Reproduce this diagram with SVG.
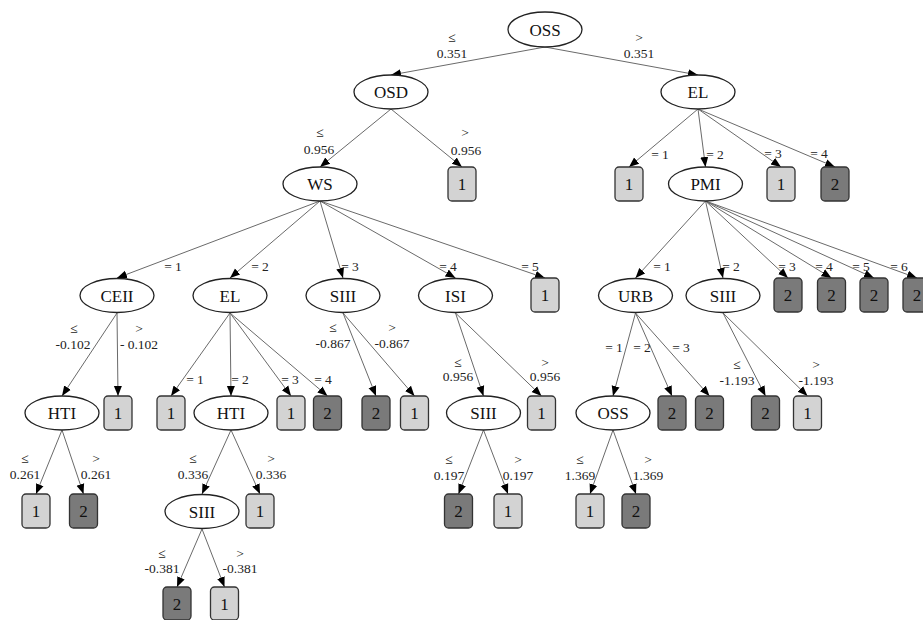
<svg xmlns="http://www.w3.org/2000/svg" width="923" height="620" viewBox="0 0 923 620">
<style>
.bg{fill:#ffffff}
.n ellipse{fill:#ffffff;stroke:#222;stroke-width:1.3}
.a rect{fill:#d3d3d3;stroke:#333;stroke-width:1.3}
.b rect{fill:#7a7a7a;stroke:#333;stroke-width:1.3}
.n text,.a text,.b text{font-family:"Liberation Serif","DejaVu Serif",serif;font-size:17px;fill:#111;text-anchor:middle}
.e line{stroke:#6a6a6a;stroke-width:1;marker-end:url(#ar)}
.lb text{font-family:"Liberation Serif","DejaVu Serif",serif;font-size:13.5px;fill:#222;text-anchor:middle}
</style>
<defs>
<marker id="ar" markerUnits="userSpaceOnUse" markerWidth="10" markerHeight="10" viewBox="0 0 10 10" refX="10" refY="5" orient="auto">
<path d="M0,1 L10,5 L0,9 Z" fill="#000"/>
</marker>
</defs>
<rect class="bg" x="0" y="0" width="923" height="620"/>
<g id="connectors" class="e">
<line x1="545" y1="47" x2="391" y2="75"/>
<line x1="545" y1="47" x2="698" y2="75"/>
<line x1="391" y1="109" x2="320" y2="167"/>
<line x1="391" y1="109" x2="462" y2="167"/>
<line x1="698" y1="109" x2="629" y2="167"/>
<line x1="698" y1="109" x2="705.5" y2="167"/>
<line x1="698" y1="109" x2="781" y2="167"/>
<line x1="698" y1="109" x2="835" y2="167"/>
<line x1="320" y1="201" x2="117" y2="278"/>
<line x1="320" y1="201" x2="230" y2="278"/>
<line x1="320" y1="201" x2="343" y2="278"/>
<line x1="320" y1="201" x2="455.5" y2="278"/>
<line x1="320" y1="201" x2="545" y2="278"/>
<line x1="705.5" y1="201" x2="635.5" y2="278"/>
<line x1="705.5" y1="201" x2="723" y2="278"/>
<line x1="705.5" y1="201" x2="788" y2="278"/>
<line x1="705.5" y1="201" x2="831.5" y2="278"/>
<line x1="705.5" y1="201" x2="874" y2="278"/>
<line x1="705.5" y1="201" x2="917" y2="278"/>
<line x1="117" y1="313" x2="62" y2="396"/>
<line x1="117" y1="313" x2="118" y2="396"/>
<line x1="230" y1="313" x2="171" y2="396"/>
<line x1="230" y1="313" x2="231" y2="396"/>
<line x1="230" y1="313" x2="291" y2="396"/>
<line x1="230" y1="313" x2="327.5" y2="396"/>
<line x1="343" y1="313" x2="376" y2="396"/>
<line x1="343" y1="313" x2="414.5" y2="396"/>
<line x1="455.5" y1="313" x2="483.5" y2="396"/>
<line x1="455.5" y1="313" x2="541.5" y2="396"/>
<line x1="635.5" y1="313" x2="613" y2="396"/>
<line x1="635.5" y1="313" x2="672" y2="396"/>
<line x1="635.5" y1="313" x2="709.5" y2="396"/>
<line x1="723" y1="313" x2="765.5" y2="396"/>
<line x1="723" y1="313" x2="807.5" y2="396"/>
<line x1="62" y1="430" x2="36" y2="494"/>
<line x1="62" y1="430" x2="83.5" y2="494"/>
<line x1="231" y1="430" x2="202" y2="494"/>
<line x1="231" y1="430" x2="260" y2="494"/>
<line x1="483.5" y1="430" x2="458.5" y2="494"/>
<line x1="483.5" y1="430" x2="508" y2="494"/>
<line x1="613" y1="430" x2="590" y2="494"/>
<line x1="613" y1="430" x2="636" y2="494"/>
<line x1="202" y1="529" x2="177" y2="587"/>
<line x1="202" y1="529" x2="224.5" y2="587"/>
</g>
<g id="edge-labels" class="lb">
<text x="452" y="42">≤</text><text x="452" y="58">0.351</text>
<text x="639" y="42">&gt;</text><text x="639" y="58">0.351</text>
<text x="320" y="137">≤</text><text x="319" y="154">0.956</text>
<text x="465" y="137">&gt;</text><text x="466" y="155">0.956</text>
<text x="660" y="159">= 1</text><text x="715" y="159">= 2</text><text x="773" y="158">= 3</text><text x="819" y="158">= 4</text>
<text x="173" y="271">= 1</text><text x="260" y="271">= 2</text><text x="350" y="271">= 3</text><text x="448" y="271">= 4</text><text x="530" y="271">= 5</text>
<text x="662" y="271">= 1</text><text x="731" y="271">= 2</text><text x="787" y="271">= 3</text><text x="824" y="271">= 4</text><text x="861" y="271">= 5</text><text x="899" y="271">= 6</text>
<text x="74" y="333">≤</text><text x="73" y="349">-0.102</text>
<text x="139" y="333">&gt;</text><text x="139" y="349">- 0.102</text>
<text x="195" y="384">= 1</text><text x="240" y="384">= 2</text><text x="290" y="384">= 3</text><text x="323" y="384">= 4</text>
<text x="333" y="332">≤</text><text x="333" y="348">-0.867</text>
<text x="392" y="332">&gt;</text><text x="392" y="348">-0.867</text>
<text x="458" y="367">≤</text><text x="458" y="381">0.956</text>
<text x="545" y="367">&gt;</text><text x="545" y="381">0.956</text>
<text x="614" y="352">= 1</text><text x="642" y="352">= 2</text><text x="681" y="352">= 3</text>
<text x="737" y="369">≤</text><text x="737" y="385">-1.193</text>
<text x="816" y="369">&gt;</text><text x="816" y="385">-1.193</text>
<text x="25" y="463">≤</text><text x="25" y="479">0.261</text>
<text x="96" y="463">&gt;</text><text x="96" y="479">0.261</text>
<text x="193" y="463">≤</text><text x="193" y="479">0.336</text>
<text x="271" y="463">&gt;</text><text x="271" y="479">0.336</text>
<text x="162" y="558">≤</text><text x="162" y="573">-0.381</text>
<text x="240" y="558">&gt;</text><text x="240" y="573">-0.381</text>
<text x="449" y="464">≤</text><text x="449" y="480">0.197</text>
<text x="518" y="464">&gt;</text><text x="518" y="480">0.197</text>
<text x="580" y="464">≤</text><text x="580" y="480">1.369</text>
<text x="648" y="464">&gt;</text><text x="648" y="480">1.369</text>
</g>
<g id="n-oss" class="n"><ellipse cx="545" cy="29.5" rx="37" ry="17.5"/><text x="545" y="35.5">OSS</text></g>
<g id="n-osd" class="n"><ellipse cx="391" cy="92" rx="37" ry="17"/><text x="391" y="98">OSD</text></g>
<g id="n-el" class="n"><ellipse cx="698" cy="92" rx="37" ry="17"/><text x="698" y="98">EL</text></g>
<g id="n-ws" class="n"><ellipse cx="320" cy="184" rx="37" ry="17"/><text x="320" y="190">WS</text></g>
<g id="l-osd-gt" class="a"><rect x="448" y="167" width="28" height="34" rx="4"/><text x="462" y="190">1</text></g>
<g id="l-el-1" class="a"><rect x="615" y="167" width="28" height="34" rx="4"/><text x="629" y="190">1</text></g>
<g id="n-pmi" class="n"><ellipse cx="705.5" cy="184" rx="37" ry="17"/><text x="705.5" y="190">PMI</text></g>
<g id="l-el-3" class="a"><rect x="767" y="167" width="28" height="34" rx="4"/><text x="781" y="190">1</text></g>
<g id="l-el-4" class="b"><rect x="821" y="167" width="28" height="34" rx="4"/><text x="835" y="190">2</text></g>
<g id="n-ceii" class="n"><ellipse cx="117" cy="295.5" rx="37" ry="17"/><text x="117" y="301.5">CEII</text></g>
<g id="n-el2" class="n"><ellipse cx="230" cy="295.5" rx="37" ry="17"/><text x="230" y="301.5">EL</text></g>
<g id="n-siii-a" class="n"><ellipse cx="343" cy="295.5" rx="37" ry="17"/><text x="343" y="301.5">SIII</text></g>
<g id="n-isi" class="n"><ellipse cx="455.5" cy="295.5" rx="37" ry="17"/><text x="455.5" y="301.5">ISI</text></g>
<g id="l-ws-5" class="a"><rect x="531" y="278" width="28" height="34" rx="4"/><text x="545" y="301">1</text></g>
<g id="n-urb" class="n"><ellipse cx="635.5" cy="295.5" rx="37" ry="17"/><text x="635.5" y="301.5">URB</text></g>
<g id="n-siii-b" class="n"><ellipse cx="723" cy="295.5" rx="37" ry="17"/><text x="723" y="301.5">SIII</text></g>
<g id="l-pmi-3" class="b"><rect x="774" y="278" width="28" height="34" rx="4"/><text x="788" y="301">2</text></g>
<g id="l-pmi-4" class="b"><rect x="817.5" y="278" width="28" height="34" rx="4"/><text x="831.5" y="301">2</text></g>
<g id="l-pmi-5" class="b"><rect x="860" y="278" width="28" height="34" rx="4"/><text x="874" y="301">2</text></g>
<g id="l-pmi-6" class="b"><rect x="903" y="278" width="28" height="34" rx="4"/><text x="917" y="301">2</text></g>
<g id="n-hti-a" class="n"><ellipse cx="62" cy="413" rx="37" ry="17"/><text x="62" y="419">HTI</text></g>
<g id="l-ceii-gt" class="a"><rect x="104" y="396" width="28" height="34" rx="4"/><text x="118" y="419">1</text></g>
<g id="l-el2-1" class="a"><rect x="157" y="396" width="28" height="34" rx="4"/><text x="171" y="419">1</text></g>
<g id="n-hti-b" class="n"><ellipse cx="231" cy="413" rx="37" ry="17"/><text x="231" y="419">HTI</text></g>
<g id="l-el2-3" class="a"><rect x="277" y="396" width="28" height="34" rx="4"/><text x="291" y="419">1</text></g>
<g id="l-el2-4" class="b"><rect x="313.5" y="396" width="28" height="34" rx="4"/><text x="327.5" y="419">2</text></g>
<g id="l-siii-a-le" class="b"><rect x="362" y="396" width="28" height="34" rx="4"/><text x="376" y="419">2</text></g>
<g id="l-siii-a-gt" class="a"><rect x="400.5" y="396" width="28" height="34" rx="4"/><text x="414.5" y="419">1</text></g>
<g id="n-siii-c" class="n"><ellipse cx="483.5" cy="413" rx="37" ry="17"/><text x="483.5" y="419">SIII</text></g>
<g id="l-isi-gt" class="a"><rect x="527.5" y="396" width="28" height="34" rx="4"/><text x="541.5" y="419">1</text></g>
<g id="n-oss2" class="n"><ellipse cx="613" cy="413" rx="37" ry="17"/><text x="613" y="419">OSS</text></g>
<g id="l-urb-2" class="b"><rect x="658" y="396" width="28" height="34" rx="4"/><text x="672" y="419">2</text></g>
<g id="l-urb-3" class="b"><rect x="695.5" y="396" width="28" height="34" rx="4"/><text x="709.5" y="419">2</text></g>
<g id="l-siii-b-le" class="b"><rect x="751.5" y="396" width="28" height="34" rx="4"/><text x="765.5" y="419">2</text></g>
<g id="l-siii-b-gt" class="a"><rect x="793.5" y="396" width="28" height="34" rx="4"/><text x="807.5" y="419">1</text></g>
<g id="l-hti-a-le" class="a"><rect x="22" y="494" width="28" height="34" rx="4"/><text x="36" y="517">1</text></g>
<g id="l-hti-a-gt" class="b"><rect x="69.5" y="494" width="28" height="34" rx="4"/><text x="83.5" y="517">2</text></g>
<g id="n-siii-d" class="n"><ellipse cx="202" cy="511.5" rx="37" ry="17"/><text x="202" y="517.5">SIII</text></g>
<g id="l-hti-b-gt" class="a"><rect x="246" y="494" width="28" height="34" rx="4"/><text x="260" y="517">1</text></g>
<g id="l-siii-c-le" class="b"><rect x="444.5" y="494" width="28" height="34" rx="4"/><text x="458.5" y="517">2</text></g>
<g id="l-siii-c-gt" class="a"><rect x="494" y="494" width="28" height="34" rx="4"/><text x="508" y="517">1</text></g>
<g id="l-oss2-le" class="a"><rect x="576" y="494" width="28" height="34" rx="4"/><text x="590" y="517">1</text></g>
<g id="l-oss2-gt" class="b"><rect x="622" y="494" width="28" height="34" rx="4"/><text x="636" y="517">2</text></g>
<g id="l-siii-d-le" class="b"><rect x="163" y="587" width="28" height="33" rx="4"/><text x="177" y="609.5">2</text></g>
<g id="l-siii-d-gt" class="a"><rect x="210.5" y="587" width="28" height="33" rx="4"/><text x="224.5" y="609.5">1</text></g>
</svg>
